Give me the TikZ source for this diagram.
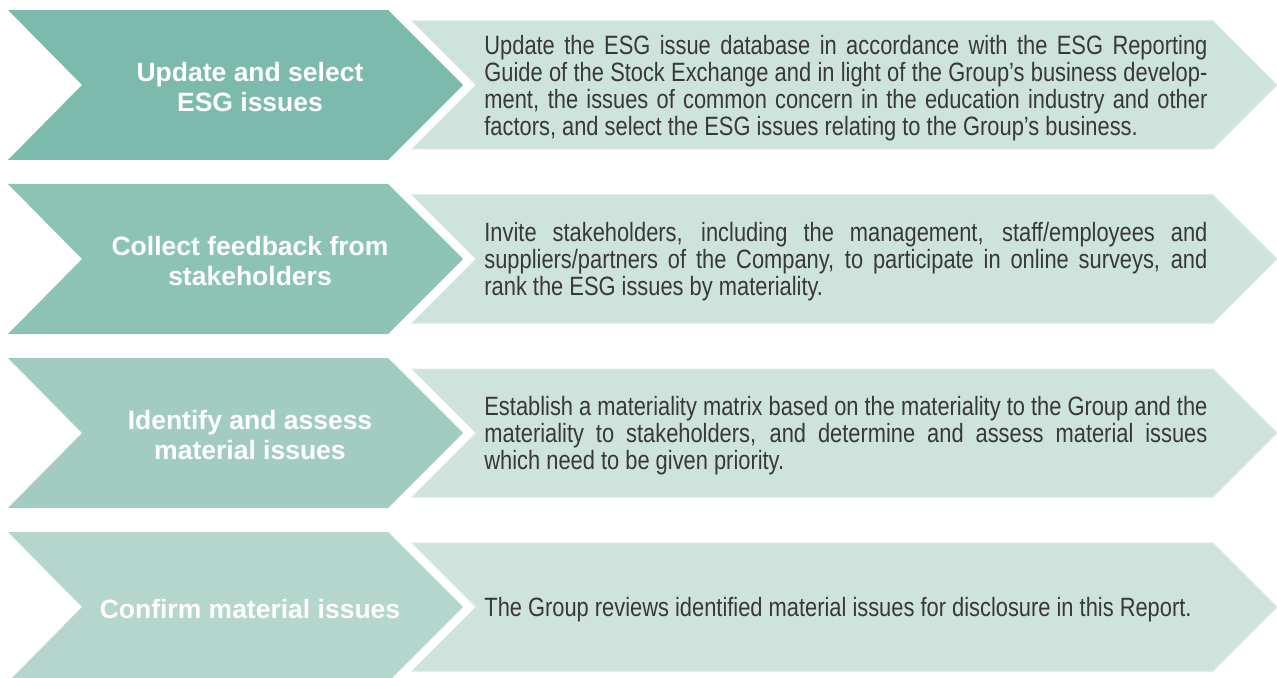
\documentclass[tikz,border=0pt]{standalone}
\usepackage{fontspec}
\setmainfont{Liberation Sans}
\newfontfamily\descfont[FakeStretch=0.825]{Liberation Sans}
\usepackage{tikz}
\usetikzlibrary{calc}

\definecolor{stepA}{HTML}{7CBAAB}
\definecolor{stepB}{HTML}{8CC3B5}
\definecolor{stepC}{HTML}{A2CCC1}
\definecolor{stepD}{HTML}{B4D6CD}
\definecolor{descfill}{HTML}{CFE3DD}
\definecolor{descedge}{HTML}{D8E9E3}
\definecolor{desctext}{HTML}{383838}

\tikzset{
	headtext/.style = {text = white, align = center, inner sep = 0pt,
		font = \bfseries\fontsize{13.25pt}{15pt}\selectfont},
	desctext/.style = {text = desctext, anchor = west, inner sep = 0pt,
		text width = 361.5pt, align = justify,
		font = \descfont\fontsize{13.25pt}{13.5pt}\selectfont},
}

\begin{document}
\hyphenpenalty=10000
\begin{tikzpicture}[x=0.5pt, y=-0.5pt]
		\def\rowgap{174};
		\def\chev{75};
		\def\band{64};
		
		\useasboundingbox (0,0) rectangle (1277,678);
		
		\foreach \i/\col/\head/\desc in {
			1/stepA/{Update and select\\ESG issues}/{Update the ESG issue database in accordance with the ESG Reporting\linebreak Guide of the Stock Exchange and in light of the Group’s business develop-\linebreak ment, the issues of common concern in the education industry and other\linebreak factors, and select the ESG issues relating to the Group’s business.},
			2/stepB/{Collect feedback from\\stakeholders}/{Invite stakeholders, including the management, staff/employees and\linebreak suppliers/partners of the Company, to participate in online surveys, and\linebreak rank the ESG issues by materiality.},
			3/stepC/{Identify and assess\\material issues}/{Establish a materiality matrix based on the materiality to the Group and the\linebreak materiality to stakeholders, and determine and assess material issues\linebreak which need to be given priority.},
			4/stepD/{Confirm material issues}/{The Group reviews identified material issues for disclosure in this Report.}}
		{
			\pgfmathsetmacro\yc{85 + (\i - 1)*\rowgap}
			
			\coordinate (notch\i) at (82,\yc);
			\coordinate (tip\i) at (463,\yc);
			\coordinate (inner\i) at (476,\yc);
			\coordinate (end\i) at (1277,\yc);
			
			% step arrow
			\fill [\col] (8,\yc-\chev) -- ($ (tip\i) + (-\chev,-\chev) $) -- (tip\i)
				-- ($ (tip\i) + (-\chev,\chev) $) -- (8,\yc+\chev) -- (notch\i) -- cycle;
			
			% description band
			\filldraw [fill = descfill, draw = descedge, line width = 0.5pt]
				($ (inner\i) + (-\band,-\band) $) -- ($ (end\i) + (-\band,-\band) $) -- (end\i)
				-- ($ (end\i) + (-\band,\band) $) -- ($ (inner\i) + (-\band,\band) $) -- (inner\i) -- cycle;
			
			\node [headtext] (head\i) at (250,\yc+2) {\head};
			\node [desctext] (desc\i) at (484,\yc+3) {\desc};
		}
	\end{tikzpicture}
\end{document}
